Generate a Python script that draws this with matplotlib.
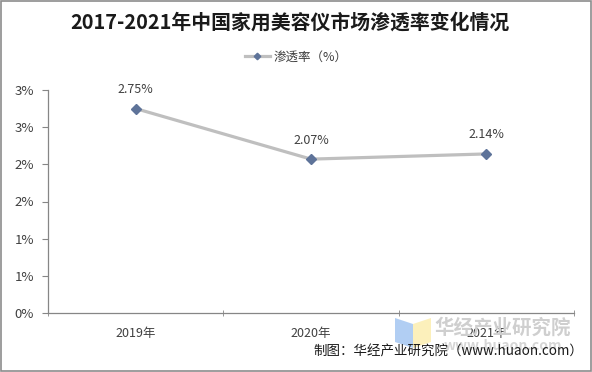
import math
import matplotlib
matplotlib.use("Agg")
import matplotlib.pyplot as plt
from matplotlib.ticker import FuncFormatter, MultipleLocator
from matplotlib.patches import Polygon, Rectangle

plt.rcParams['font.family'] = ['Noto Sans CJK SC', 'DejaVu Sans']

categories = ["2019年", "2020年", "2021年"]
values = [2.75, 2.07, 2.14]
labels = ["2.75%", "2.07%", "2.14%"]
title = "2017-2021年中国家用美容仪市场渗透率变化情况"
series_name = "渗透率（%）"
source = "制图：华经产业研究院（www.huaon.com）"

W, H = 592, 372
fig = plt.figure(figsize=(W / 100, H / 100), dpi=100)
fig.patch.set_facecolor("white")

ax = fig.add_axes([48 / W, 1 - 313 / H, (574 - 48) / W, (313 - 90) / H])
x = list(range(len(categories)))
line, = ax.plot(x, values, color="#BFBFBF", lw=2.3, marker="D", ms=5.5,
                mfc="#5E7399", mec="#5E7399", label=series_name, zorder=3)
for xi, v, lab in zip(x, values, labels):
    ax.annotate(lab, (xi, v), xytext=(0, 9), textcoords="offset points",
                ha="center", va="bottom", fontsize=9, color="#404040")

ax.set_xlim(-0.5, len(categories) - 0.5)
ax.set_ylim(0, 3.0)
ax.yaxis.set_major_locator(MultipleLocator(0.5))
ax.yaxis.set_major_formatter(FuncFormatter(lambda v, p: f"{math.floor(v + 0.5 + 1e-9):d}%"))
ax.set_xticks(x)
ax.set_xticklabels(categories)
ax.set_xticks([-0.5 + i for i in range(len(categories) + 1)], minor=True)
ax.tick_params(axis="x", which="major", length=0, pad=10, labelsize=9, labelcolor="#404040")
ax.tick_params(axis="x", which="minor", length=4, direction="inout", color="#868686")
ax.tick_params(axis="y", length=4, direction="out", color="#868686", labelsize=9.5,
               labelcolor="#404040", pad=6)
for s in ["top", "right"]:
    ax.spines[s].set_visible(False)
for s in ["left", "bottom"]:
    ax.spines[s].set_color("#868686")
    ax.spines[s].set_linewidth(0.9)

fig.text(0.49, 1 - 22 / H, title, ha="center", va="center", fontsize=14.3,
         fontweight="bold", color="#1a1a1a")
fig.legend(handles=[line], loc="center", bbox_to_anchor=(0.5, 1 - 57 / H),
           frameon=False, fontsize=9, handlelength=2.0, handletextpad=0.3,
           markerscale=0.6, labelcolor="#404040")

# watermark
blue = Polygon([(395 / W, 1 - 318 / H), (413 / W, 1 - 324 / H), (413 / W, 1 - 348 / H),
                (395 / W, 1 - 342 / H)], closed=True, transform=fig.transFigure,
               facecolor="#A9C9F2", edgecolor="none", alpha=0.9, zorder=0)
yellow = Polygon([(413 / W, 1 - 324 / H), (431 / W, 1 - 318 / H), (431 / W, 1 - 342 / H),
                  (413 / W, 1 - 348 / H)], closed=True, transform=fig.transFigure,
                 facecolor="#FCEFB4", edgecolor="none", alpha=0.9, zorder=0)
fig.patches.extend([blue, yellow])
fig.text(503 / W, 1 - 328 / H, "华经产业研究院", ha="center", va="center", fontsize=14,
         color="#CFCFCF", fontweight="bold", zorder=0)
fig.text(503 / W, 1 - 346 / H, "www.huaon.com", ha="center", va="center", fontsize=10,
         color="#D6D6D6", fontweight="bold", zorder=0)

fig.text(583 / W, 1 - 352 / H, source, ha="right", va="center", fontsize=9.7, color="#1a1a1a")

border = Rectangle((0.001, 0.002), 0.997, 0.995, transform=fig.transFigure,
                   fill=False, edgecolor="#8C8C8C", lw=1.2)
fig.patches.append(border)

fig.savefig("out.png", dpi=100, facecolor="white")
